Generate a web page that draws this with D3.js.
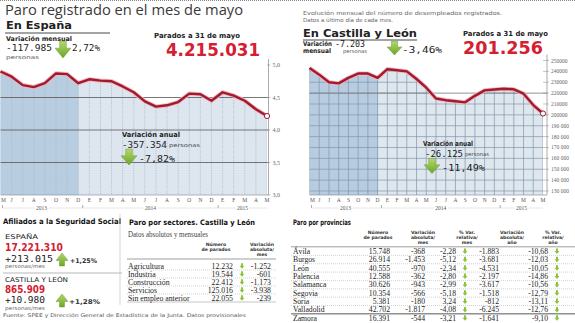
<!DOCTYPE html>
<html><head><meta charset="utf-8">
<script src="https://cdn.jsdelivr.net/npm/d3@7"></script>
<style>body{margin:0;background:#fff}svg{display:block}</style>
</head><body>
<script>
// ---------- DATA ----------
const months = ["M","J","J","A","S","O","N","D","E","F","M","A","M","J","J","A","S","O","N","D","E","F","M","A","M"];
const years = ["2013","2014","2015"];
const spainValues = [4.90,4.82,4.69,4.66,4.72,4.87,4.86,4.72,4.78,4.76,4.75,4.67,4.58,4.44,4.36,4.38,4.43,4.56,4.55,4.45,4.58,4.53,4.45,4.32,4.215];
const spainTicks = [5.0,4.5,4.0,3.5,3.0];
const spainTickLabels = ["5,0","4,5","4,0","3,5","3,0"];
const cylValues = [243000,237000,230000,229000,234000,238000,238000,234000,242000,241000,240000,233000,225000,215000,213500,212500,211500,217500,222500,223300,224000,223500,219500,209000,201256];
const cylTicks = [250000,240000,230000,220000,210000,200000,190000,180000,170000,160000,150000,140000,130000];
const cylTickLabels = ["250000","240000","230000","220000","210000","200000","190 000","180 000","170 000","160 000","150 000","140 000","130 000"];
const sectorNames = ["Agricultura","Industria","Construcción","Servicios","Sin empleo anterior"];
const sectorParados = ["12.232","19.544","22.412","125.016","22.055"];
const sectorVarMes = ["-1.252","-601","-1.173","-3.938","-239"];
const provNames = ["Ávila","Burgos","León","Palencia","Salamanca","Segovia","Soria","Valladolid","Zamora"];
const provParados = ["15.748","26.914","40.555","12.588","30.626","10.354","5.381","42.702","16.391"];
const provVarMes = ["-368","-1.453","-970","-362","-943","-566","-180","-1.817","-544"];
const provPctMes = ["-2,28","-5,12","-2,34","-2,80","-2,99","-5,18","3,24","-4,08","-3,21"];
const provVarAno = ["-1.883","-3.681","-4.531","-2.197","-3.617","-1.518","-812","-6.245","-1.641"];
const provPctAno = ["-10,68","-12,03","-10,05","-14,86","-10,56","-12,79","-13,11","-12,76","-9,10"];

// ---------- SETUP ----------
const W = 575, H = 323;
const svg = d3.select("body").append("svg").attr("width", W).attr("height", H);
const defs = svg.append("defs");
const grad = defs.append("linearGradient").attr("id","grn").attr("x1",0).attr("y1",0).attr("x2",0).attr("y2",1);
grad.append("stop").attr("offset","0").attr("stop-color","#b3d86a");
grad.append("stop").attr("offset","1").attr("stop-color","#6ea42a");

const SANS = "'DejaVu Sans', sans-serif";
const MONO = "'DejaVu Sans Mono', monospace";
const SERIF = "'Liberation Serif', serif";

function txt(g, x, y, s, o = {}) {
  const t = g.append("text").attr("x", x).attr("y", y).text(s)
    .attr("font-family", o.ff || SANS).attr("font-size", o.fs || 7)
    .attr("font-weight", o.fw || "normal").attr("fill", o.fill || "#222")
    .attr("text-anchor", o.anchor || "start");
  if (o.tl) t.attr("textLength", o.tl).attr("lengthAdjust", "spacingAndGlyphs");
  return t;
}
function arrow(g, x, y, w, h, up) {
  const sw = w * 0.42, sx = x + (w - sw) / 2;
  let p;
  if (!up) p = `M${sx},${y}H${sx+sw}V${y+h*0.42}H${x+w}L${x+w/2},${y+h}L${x},${y+h*0.42}H${sx}Z`;
  else p = `M${sx},${y+h}H${sx+sw}V${y+h*0.58}H${x+w}L${x+w/2},${y}L${x},${y+h*0.58}H${sx}Z`;
  g.append("path").attr("d", p).attr("fill", "url(#grn)").attr("stroke","#5f9222").attr("stroke-width",0.4);
}
function smallArrow(g, cx, cy) {
  g.append("path").attr("d", `M${cx-1},${cy-3}H${cx+1}V${cy-0.5}H${cx+2.5}L${cx},${cy+2.5}L${cx-2.5},${cy-0.5}H${cx-1}Z`).attr("fill","#8cc43c");
}

// top border
svg.append("line").attr("x1",0).attr("x2",W).attr("y1",0.5).attr("y2",0.5).attr("stroke","#888").attr("stroke-dasharray","1,1");

// ---------- generic chart ----------
function drawChart(cfg) {
  const g = svg.append("g");
  const x = d3.scaleLinear().domain([0, months.length - 1]).range(cfg.xr);
  const y = d3.scaleLinear().domain(cfg.yd).range([cfg.bottom, cfg.top]);
  const vals = cfg.values;
  const area = d3.area().x((d,i)=>x(i)).y0(cfg.bottom).y1(d=>y(d));
  const line = d3.line().x((d,i)=>x(i)).y(d=>y(d));
  const cid = cfg.id + "clip";
  defs.append("clipPath").attr("id", cid).append("path").attr("d", area(vals));
  const cg = g.append("g").attr("clip-path", `url(#${cid})`);
  const split = x(7.05);
  cg.append("rect").attr("x", cfg.xr[0]-1).attr("y", cfg.top-20).attr("width", split - cfg.xr[0] + 1).attr("height", cfg.bottom - cfg.top + 20).attr("fill", cfg.dark);
  cg.append("rect").attr("x", split).attr("y", cfg.top-20).attr("width", cfg.xr[1] - split + 1).attr("height", cfg.bottom - cfg.top + 20).attr("fill", cfg.light);
  // vertical grid
  cg.selectAll("line.v").data(months).join("line")
    .attr("x1",(d,i)=>x(i)).attr("x2",(d,i)=>x(i)).attr("y1",cfg.top-20).attr("y2",cfg.bottom)
    .attr("stroke", cfg.vgrid).attr("stroke-width", 0.7).attr("stroke-dasharray", cfg.vdash || null);
  if (cfg.hInside) {
    cg.selectAll("line.h").data(cfg.ticks).join("line")
      .attr("x1", cfg.xr[0]).attr("x2", cfg.xr[1]).attr("y1", d=>y(d)).attr("y2", d=>y(d))
      .attr("stroke", cfg.vgrid).attr("stroke-width", 0.7);
  }
  // horizontal gridlines over full width
  g.selectAll("line.hf").data(cfg.fullTicks).join("line")
    .attr("x1", cfg.xr[0]).attr("x2", cfg.axisX).attr("y1", d=>y(d)).attr("y2", d=>y(d))
    .attr("stroke", cfg.hcol).attr("stroke-width", 0.8);
  // short ticks to axis
  g.selectAll("line.tk").data(cfg.ticks).join("line")
    .attr("x1", cfg.xr[1]).attr("x2", cfg.axisX + 2).attr("y1", d=>y(d)).attr("y2", d=>y(d))
    .attr("stroke", "#888").attr("stroke-width", 0.5);
  // baseline
  g.append("line").attr("x1", cfg.xr[0]).attr("x2", cfg.axisX).attr("y1", cfg.bottom).attr("y2", cfg.bottom).attr("stroke","#8a9aa8").attr("stroke-width",0.7);
  // axis line
  g.append("line").attr("x1", cfg.axisX).attr("x2", cfg.axisX).attr("y1", cfg.top - 6).attr("y2", cfg.bottom).attr("stroke","#888").attr("stroke-width",0.7);
  // tick labels
  g.selectAll("text.yl").data(cfg.ticks).join("text")
    .attr("x", cfg.axisX + 4).attr("y", d=>y(d) + 2)
    .attr("font-family", SERIF).attr("font-size", cfg.tfs).attr("fill", "#666")
    .text((d,i)=>cfg.tickLabels[i]);
  // line
  g.append("path").attr("d", line(vals)).attr("fill","none").attr("stroke","#efb8bf").attr("stroke-width",4.2).attr("stroke-linejoin","round");
  g.append("path").attr("d", line(vals)).attr("fill","none").attr("stroke","#a11a2f").attr("stroke-width",2.4).attr("stroke-linejoin","round");
  g.append("circle").attr("cx", x(vals.length-1)).attr("cy", y(vals[vals.length-1])).attr("r", 2.6).attr("fill","#fff").attr("stroke","#a11a2f").attr("stroke-width",1);
  // month labels
  g.selectAll("text.m").data(months).join("text")
    .attr("x",(d,i)=>Math.max(x(i), cfg.xr[0] + 3)).attr("y", cfg.bottom + 7).attr("text-anchor","middle")
    .attr("font-family", SERIF).attr("font-size", 5.5).attr("fill","#555").text(d=>d);
  // year labels
  const yb = cfg.bottom + 13;
  const bounds = [0, 7.4, 19.6, 24];
  g.append("line").attr("x1", x(0) + 2).attr("x2", x(24)).attr("y1", yb).attr("y2", yb).attr("stroke","#999").attr("stroke-width",0.5).attr("stroke-dasharray","1,1");
  [0, 7.4, 19.6].forEach(b => g.append("line").attr("x1", x(b) + (b === 0 ? 2 : 0)).attr("x2", x(b) + (b === 0 ? 2 : 0)).attr("y1", yb-3).attr("y2", yb).attr("stroke","#777").attr("stroke-width",0.6));
  years.forEach((yr, k) => {
    const cx = (x(bounds[k]) + x(bounds[k+1])) / 2;
    g.append("rect").attr("x", cx - 7).attr("y", yb - 3).attr("width", 14).attr("height", 5).attr("fill", "#fff");
    txt(g, cx, yb + 1.5, yr, {ff: SERIF, fs: 5.5, fill: "#555", anchor: "middle"});
  });
  return {x, y, g};
}

// ---------- LEFT: España ----------
txt(svg, 5, 15, "Paro registrado en el mes de mayo", {ff: "'Open Sans', sans-serif", fs: 14.5, fill: "#3a3a3a", tl: 238});
txt(svg, 6, 29, "En España", {fs: 10, fw: "bold", fill: "#222", tl: 66});
svg.append("line").attr("x1",5).attr("x2",110).attr("y1",33).attr("y2",33).attr("stroke","#333").attr("stroke-width",0.9);
txt(svg, 6, 40.5, "Variación mensual", {fs: 6.5, fw: "bold", tl: 66});
txt(svg, 6, 51, "-117.985", {ff: MONO, fs: 9.5, tl: 46});
txt(svg, 6, 58.5, "personas", {fs: 5.2, fill: "#555", tl: 33});
arrow(svg, 55, 41, 16, 17, false);
txt(svg, 72, 51, "2,72%", {ff: MONO, fs: 9.5, tl: 28});
txt(svg, 154, 37.5, "Parados a 31 de mayo", {fs: 7, fw: "bold", tl: 86});
txt(svg, 166, 56, "4.215.031", {fs: 17, fw: "bold", fill: "#d42030", tl: 94});

drawChart({id:"es", values: spainValues, xr:[0.5, 267], yd:[3.0, 5.0], top: 65, bottom: 195,
  dark:"#b8cde0", light:"#dde6ee", vgrid:"#a9bccc", vdash:"1.5,1", hInside:false,
  fullTicks:[4.5,4.0,3.5], hcol:"#555", ticks: spainTicks, tickLabels: spainTickLabels, axisX: 268.5, tfs: 6});

txt(svg, 122, 136.5, "Variación anual", {fs: 7, fw: "bold", tl: 58});
txt(svg, 122, 147.5, "-357.354", {ff: MONO, fs: 9.5, tl: 45});
txt(svg, 169, 147, "personas", {fs: 5.2, fill: "#444", tl: 31});
arrow(svg, 121, 149, 16, 16, false);
txt(svg, 139, 161.5, "-7,82%", {ff: MONO, fs: 9.5, tl: 36});

// ---------- RIGHT: Castilla y León ----------
txt(svg, 303, 15, "Evolución mensual del número de desempleados registrados.", {fs: 5.5, fill: "#666", tl: 199});
txt(svg, 303, 21.5, "Datos a último día de cada mes.", {fs: 5.5, fill: "#666", tl: 90});
txt(svg, 303, 37, "En Castilla y León", {fs: 10.5, fw: "bold", tl: 114});
svg.append("line").attr("x1",303).attr("x2",417).attr("y1",40).attr("y2",40).attr("stroke","#333").attr("stroke-width",0.9);
txt(svg, 303, 45.5, "Variación", {fs: 6.5, fw: "bold", tl: 29});
txt(svg, 303, 52.5, "mensual", {fs: 6.5, fw: "bold", tl: 28});
txt(svg, 335, 47, "-7.203", {ff: MONO, fs: 9.5, tl: 30});
txt(svg, 343, 53, "personas", {fs: 5.2, fill: "#555", tl: 24});
arrow(svg, 387, 41, 15, 14, false);
txt(svg, 402, 53, "-3,46%", {ff: MONO, fs: 9.5, tl: 40});
txt(svg, 463, 35.5, "Parados a 31 de mayo", {fs: 7, fw: "bold", tl: 85});
txt(svg, 463, 53.5, "201.256", {fs: 17, fw: "bold", fill: "#d42030", tl: 80});

drawChart({id:"cyl", values: cylValues, xr:[309.5, 543], yd:[126300, 250000], top: 60.5, bottom: 195,
  dark:"#b7cce0", light:"#dfe7ee", vgrid:"#7f95ab", vdash:null, hInside:true,
  fullTicks:[220000], hcol:"#777", ticks: cylTicks, tickLabels: cylTickLabels, axisX: 547, tfs: 5.5});

txt(svg, 423, 145.5, "Variación anual", {fs: 7, fw: "bold", tl: 50});
txt(svg, 425, 156.5, "-26.125", {ff: MONO, fs: 9.5, tl: 38});
txt(svg, 465, 156, "personas", {fs: 5.2, fill: "#444", tl: 24});
arrow(svg, 424, 158.5, 16, 15, false);
txt(svg, 442, 171, "-11,49%", {ff: MONO, fs: 9.5, tl: 43});

// ---------- BOTTOM LEFT: Afiliados ----------
txt(svg, 3, 224, "Afiliados a la Seguridad Social", {fs: 7.5, fw: "bold", fill: "#111", tl: 118});
txt(svg, 5, 239, "ESPAÑA", {fs: 6.5, fill: "#222", tl: 33});
txt(svg, 5, 250.5, "17.221.310", {fs: 10, fw: "bold", fill: "#d42030", tl: 58});
txt(svg, 5, 261.5, "+213.015", {ff: MONO, fs: 9.5, tl: 48});
txt(svg, 5, 268, "personas/mes", {fs: 5.2, fill: "#666", tl: 40});
arrow(svg, 56, 253, 12, 13, true);
txt(svg, 70, 263, "+1,25%", {fs: 6.5, fw: "bold", fill: "#333", tl: 27});
svg.append("line").attr("x1",3).attr("x2",122).attr("y1",273).attr("y2",273).attr("stroke","#888").attr("stroke-width",0.6);
txt(svg, 5, 282, "CASTILLA Y LEÓN", {fs: 6.5, fill: "#222", tl: 63});
txt(svg, 5, 292.5, "865.909", {fs: 10, fw: "bold", fill: "#d42030", tl: 40});
txt(svg, 5, 303, "+10.980", {ff: MONO, fs: 9.5, tl: 40});
txt(svg, 5, 309.5, "personas/mes", {fs: 5.2, fill: "#666", tl: 40});
arrow(svg, 56, 294, 12, 13, true);
txt(svg, 69, 304, "+1,28%", {fs: 6.5, fw: "bold", fill: "#333", tl: 31});
txt(svg, 3, 316.5, "Fuente: SPEE y Dirección General de Estadística de la Junta. Datos provisionales", {fs: 5, fill: "#555", tl: 243});

// ---------- BOTTOM MIDDLE: Sectores ----------
svg.append("line").attr("x1",120).attr("x2",120).attr("y1",214).attr("y2",305).attr("stroke","#bbb").attr("stroke-width",0.6);
txt(svg, 129, 224.5, "Paro por sectores. Castilla y León", {fs: 7.5, fw: "bold", fill: "#111", tl: 126});
txt(svg, 128, 237, "Datos absolutos y mensuales", {ff: SERIF, fs: 7.5, fill: "#444", tl: 80});
[["Número", 245.5], ["de parados", 250.5]].forEach(([s, yy]) => txt(svg, 216, yy, s, {fs: 4.6, fw: "bold", fill: "#333", anchor: "middle"}));
[["Variación", 245.5], ["absoluta/", 250.5], ["mes", 256]].forEach(([s, yy]) => txt(svg, 262, yy, s, {fs: 4.6, fw: "bold", fill: "#333", anchor: "middle"}));
svg.append("line").attr("x1",127).attr("x2",276).attr("y1",259).attr("y2",259).attr("stroke","#777").attr("stroke-width",0.7);
const sy = d3.scaleLinear().domain([0, 4]).range([266, 298]);
sectorNames.forEach((nm, i) => {
  const yy = sy(i);
  txt(svg, 128, yy + 2.6, nm, {ff: SERIF, fs: 7.8, fill: "#222"});
  txt(svg, 233, yy + 2.6, sectorParados[i], {ff: SERIF, fs: 7.8, fill: "#222", anchor: "end"});
  smallArrow(svg, 242, yy + 0.3);
  txt(svg, 271, yy + 2.6, sectorVarMes[i], {ff: SERIF, fs: 7.8, fill: "#222", anchor: "end"});
  svg.append("line").attr("x1",127).attr("x2",276).attr("y1",yy+4).attr("y2",yy+4)
    .attr("stroke", i === 4 ? "#888" : "#aaa").attr("stroke-width",0.5).attr("stroke-dasharray", i === 4 ? null : "1,1");
});

// ---------- BOTTOM RIGHT: Provincias ----------
txt(svg, 293, 224.5, "Paro por provincias", {fs: 7.5, fw: "bold", fill: "#111", tl: 58});
const hdrs = [
  [378, ["Número", "de parados"]],
  [423, ["Variación", "absoluta/", "mes"]],
  [467, ["% Var.", "relativa/", "mes"]],
  [512, ["Variación", "absoluta/", "año"]],
  [553, ["% Var.", "relativa/", "año"]]
];
hdrs.forEach(([cx, lines]) => lines.forEach((s, k) => txt(svg, cx, 233.5 + k * 5.2, s, {fs: 4.6, fw: "bold", fill: "#333", anchor: "middle"})));
svg.append("line").attr("x1",291).attr("x2",575).attr("y1",246.8).attr("y2",246.8).attr("stroke","#777").attr("stroke-width",0.7);
const py = d3.scaleLinear().domain([0, 8]).range([251.2, 318]);
provNames.forEach((nm, i) => {
  const yy = py(i);
  const o = {ff: SERIF, fs: 7.7, fill: "#222"};
  txt(svg, 293, yy + 2.6, nm, o);
  txt(svg, 390, yy + 2.6, provParados[i], {...o, anchor: "end"});
  txt(svg, 425, yy + 2.6, provVarMes[i], {...o, anchor: "end"});
  txt(svg, 456, yy + 2.6, provPctMes[i], {...o, anchor: "end"});
  smallArrow(svg, 465, yy + 0.3);
  txt(svg, 499, yy + 2.6, provVarAno[i], {...o, anchor: "end"});
  txt(svg, 548, yy + 2.6, provPctAno[i], {...o, anchor: "end"});
  smallArrow(svg, 557, yy + 0.3);
  if (i < 8) svg.append("line").attr("x1",291).attr("x2",575).attr("y1",yy+4.2).attr("y2",yy+4.2)
    .attr("stroke", i === 7 ? "#444" : "#aaa").attr("stroke-width", i === 7 ? 0.9 : 0.5).attr("stroke-dasharray", i === 7 ? null : "1,1");
});
</script>
</body></html>
